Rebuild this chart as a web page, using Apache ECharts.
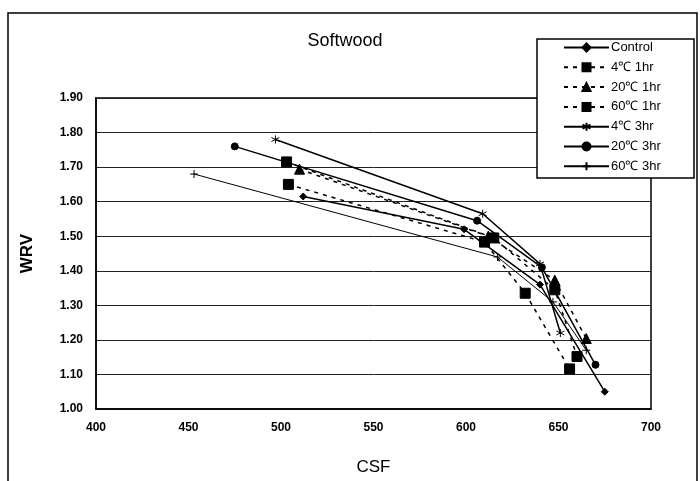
<html>
<head>
<meta charset="utf-8">
<script src="https://cdn.jsdelivr.net/npm/echarts@6/dist/echarts.min.js"></script>
<style>
html, body { margin: 0; padding: 0; background: #fff; }
#main { width: 700px; height: 481px; }
</style>
</head>
<body>
<div id="main"></div>
<script>
// CSF / WRV pairs
var control  = [[512, 1.615], [599, 1.52], [640, 1.36], [675, 1.05]];
var c4h1     = [[503, 1.715], [615, 1.495], [648, 1.345], [660, 1.152]];
var c20h1    = [[510, 1.694], [612, 1.50], [648, 1.373], [665, 1.204]];
var c60h1    = [[504, 1.65], [610, 1.483], [632, 1.335], [656, 1.116]];
var c4h3     = [[497, 1.78], [609, 1.565], [640, 1.42], [651, 1.22]];
var c20h3    = [[475, 1.76], [606, 1.545], [641, 1.41], [670, 1.128]];
var c60h3    = [[453, 1.68], [617, 1.44], [647, 1.31], [665, 1.17]];
var names = ['Control', '4℃ 1hr', '20℃ 1hr', '60℃ 1hr', '4℃ 3hr', '20℃ 3hr', '60℃ 3hr'];

var chart = echarts.init(document.getElementById('main'));
var FONT = 'Liberation Sans, Arial, sans-serif';

var star = 'path://M0,-10L0,10M-8.66,-5L8.66,5M-8.66,5L8.66,-5';
var plus = 'path://M-6,0L6,0M0,-6L0,6';

function line(name, data, symbol, size, dashed, width) {
    return {
        name: name,
        type: 'line',
        data: data,
        symbol: symbol,
        symbolSize: size,
        showSymbol: true,
        lineStyle: { color: '#000', width: width || 1.5, type: dashed ? [4, 5] : 'solid' },
        itemStyle: { color: '#000', borderColor: '#000', borderWidth: 1 },
        emphasis: { disabled: true }
    };
}

chart.setOption({
    animation: false,
    backgroundColor: '#fff',
    title: {
        text: 'Softwood',
        left: 340,
        top: 27,
        textAlign: 'center',
        textStyle: { fontFamily: FONT, fontSize: 18, fontWeight: 'normal', color: '#000' }
    },
    graphic: [
        {
            type: 'rect', z: 0, silent: true,
            shape: { x: 8, y: 13, width: 689, height: 490 },
            style: { fill: null, stroke: '#000', lineWidth: 1.5 }
        },
        {
            type: 'rect', z: 10, silent: true,
            shape: { x: 537, y: 39, width: 157, height: 139 },
            style: { fill: '#fff', stroke: '#000', lineWidth: 1.5 }
        }
    ],
    legend: {
        z: 20,
        orient: 'vertical',
        left: 563,
        top: 41,
        itemWidth: 45,
        itemHeight: 10,
        itemGap: 6.8,
        padding: 0,
        data: names,
        textStyle: { fontFamily: FONT, fontSize: 13, color: '#000', padding: [0, 0, 0, -3] }
    },
    grid: {
        left: 96, top: 98, width: 555, height: 315,
        show: true, borderColor: '#000', borderWidth: 1.5
    },
    xAxis: {
        type: 'value',
        min: 400, max: 700, interval: 50,
        name: 'CSF',
        nameLocation: 'middle',
        nameGap: 50,
        nameTextStyle: { fontFamily: FONT, fontSize: 17, color: '#000' },
        axisLine: { lineStyle: { color: '#000', width: 1.5 } },
        axisTick: { show: false },
        splitLine: { show: false },
        axisLabel: { fontFamily: FONT, fontSize: 12, fontWeight: 'bold', color: '#000', margin: 13 }
    },
    yAxis: {
        type: 'value',
        min: 1.0, max: 1.9, interval: 0.1,
        name: 'WRV',
        nameLocation: 'middle',
        nameGap: 60,
        nameTextStyle: { fontFamily: FONT, fontSize: 17, fontWeight: 'bold', color: '#000' },
        axisLine: { show: true, lineStyle: { color: '#000', width: 1.5 } },
        axisTick: { show: false },
        splitLine: { show: true, lineStyle: { color: '#222', width: 1 } },
        axisLabel: {
            fontFamily: FONT, fontSize: 12, fontWeight: 'bold', color: '#000', margin: 13,
            formatter: function (v) { return v.toFixed(2); }
        }
    },
    series: [
        line(names[0], control, 'diamond', 7, false, 1.5),
        line(names[1], c4h1, 'rect', 10, true, 1.5),
        line(names[2], c20h1, 'triangle', 10, true, 1.5),
        line(names[3], c60h1, 'rect', 10, true, 1.5),
        line(names[4], c4h3, star, 8, false, 1.5),
        line(names[5], c20h3, 'circle', 7, false, 1.5),
        line(names[6], c60h3, plus, 8, false, 1)
    ]
});

window.onresize = chart.resize;
</script>
</body>
</html>
